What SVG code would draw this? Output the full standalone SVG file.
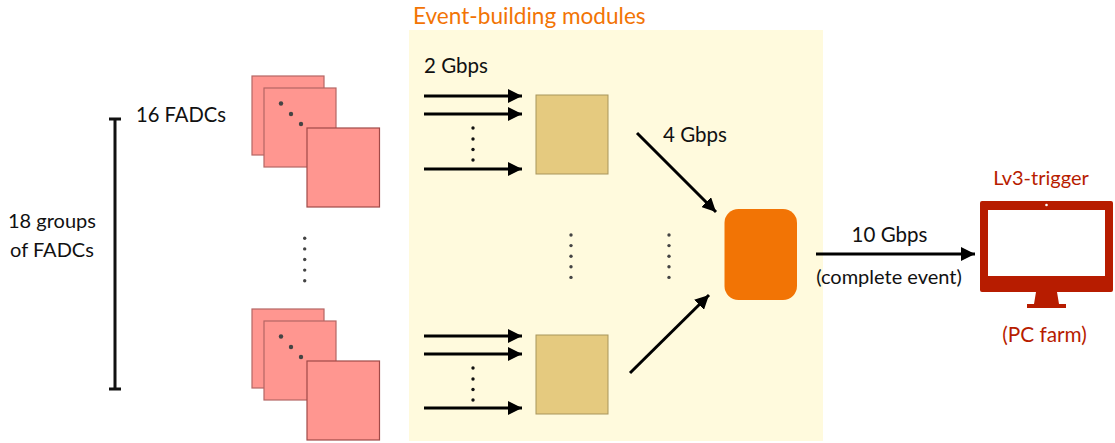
<svg xmlns="http://www.w3.org/2000/svg" width="1115" height="443" viewBox="0 0 1115 443">
<style>
text{font-family:"Lato","Open Sans",sans-serif;font-size:20px;fill:#111}
.m{text-anchor:middle}
.red{fill:#b71c00}
.fadc{fill:#ff9690;stroke:#a04a48;stroke-width:1.2}
.fadc.back{stroke:#b56664}
.eb{fill:#e5ca7f;stroke:#a8955c;stroke-width:1}
.arrow{stroke:#000;stroke-width:3;fill:none;marker-end:url(#ah)}
.dot{fill:#111}
.gdot{fill:#444}
</style>
<defs>
<marker id="ah" markerUnits="userSpaceOnUse" markerWidth="14" markerHeight="14" refX="12" refY="6" orient="auto" viewBox="0 0 12 12"><path d="M0 0L12 6L0 12Z" fill="#000"/></marker>
<g id="stack">
<rect class="fadc back" x="252" y="76" width="72" height="79"/>
<rect class="fadc back" x="264" y="88" width="72" height="79"/>
<circle class="gdot" cx="281" cy="103.500" r="2.200"/><circle class="gdot" cx="291" cy="114" r="2.200"/><circle class="gdot" cx="301" cy="124" r="2.200"/>
<rect class="fadc" x="307" y="128" width="72.500" height="79"/>
</g>
<g id="vd"><circle cx="0" cy="0" r="1.700"/><circle cx="0" cy="10.600" r="1.700"/><circle cx="0" cy="21.200" r="1.700"/><circle cx="0" cy="31.800" r="1.700"/><circle cx="0" cy="42.400" r="1.700"/></g>
<g id="ad"><circle cx="473" cy="128" r="1.700"/><circle cx="473" cy="139" r="1.700"/><circle cx="473" cy="149.500" r="1.700"/><circle cx="473" cy="160" r="1.700"/></g>
</defs>
<g id="event-building">
<rect x="409" y="30" width="414" height="411" fill="#fffadd"/>
<text x="413" y="24" style="font-size:22.600px;fill:#f27405">Event-building modules</text>
</g>
<g id="bracket">
<path d="M115 119V389M109 119H121M109 389H121" stroke="#111" stroke-width="3" fill="none"/>
<text class="m" x="52" y="228">18 groups</text>
<text class="m" x="52" y="257">of FADCs</text>
</g>
<g id="fadc-top"><use href="#stack"/><text x="136" y="122" style="font-size:20.200px">16 FADCs</text></g>
<g id="fadc-bottom"><use href="#stack" y="233"/></g>
<g id="fadc-dots" class="gdot"><use href="#vd" x="304.700" y="238.300"/></g>
<g id="module-top"><rect class="eb" x="536" y="95" width="72" height="79"/></g>
<g id="module-bottom"><rect class="eb" x="536" y="335" width="72" height="79"/></g>
<g id="builder"><rect x="724.500" y="209" width="72.500" height="91" rx="14" fill="#f27405"/></g>
<g id="lv3">
<text class="m red" x="1041" y="185">Lv3-trigger</text>
<path fill="#b71c00" fill-rule="evenodd" d="M982 201H1111a2 2 0 0 1 2 2V290a2 2 0 0 1-2 2H982a2 2 0 0 1-2-2V203a2 2 0 0 1 2-2ZM988 210V276H1105V210Z"/>
<path fill="#b71c00" d="M1036 292H1057L1059 304H1066V308H1027V304H1034Z"/>
<circle cx="1046.500" cy="205" r="1.300" fill="#fff"/>
<text class="m red" x="1044.500" y="342" style="font-size:20.800px">(PC farm)</text>
</g>
<g id="connectors">
<path class="arrow" d="M424 96H522"/>
<path class="arrow" d="M424 114H522"/>
<path class="arrow" d="M424 169H522"/>
<path class="arrow" d="M424 336H522"/>
<path class="arrow" d="M424 354H522"/>
<path class="arrow" d="M424 408H522"/>
<path class="arrow" d="M637 133L716 212"/>
<path class="arrow" d="M630 373L709 295"/>
<path class="arrow" d="M816 254H975"/>
</g>
<g id="dots">
<g class="dot"><use href="#ad"/><use href="#ad" y="240"/></g>
<g class="gdot"><use href="#vd" x="571" y="235"/><use href="#vd" x="669" y="235"/></g>
</g>
<g id="labels">
<text x="424" y="73" style="font-size:20.500px">2 Gbps</text>
<text x="663" y="142" style="font-size:20.500px">4 Gbps</text>
<text class="m" x="889.500" y="242" style="font-size:20.500px">10 Gbps</text>
<text class="m" x="889" y="284">(complete event)</text>
</g>
</svg>
